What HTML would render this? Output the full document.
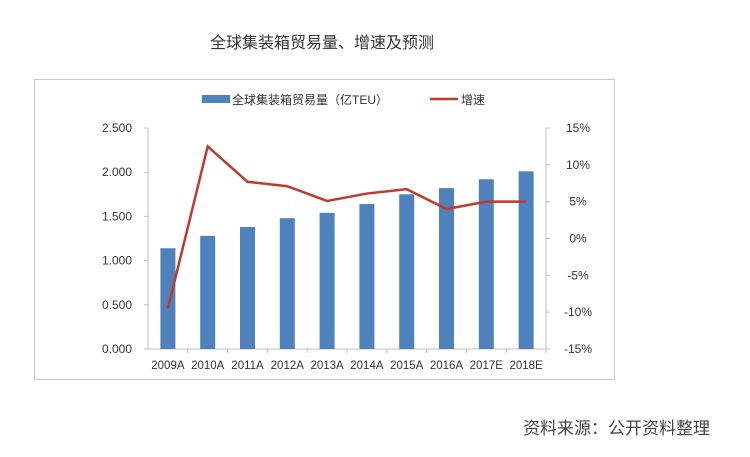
<!DOCTYPE html>
<html><head><meta charset="utf-8"><style>
body{margin:0;background:#fff;width:750px;height:452px;overflow:hidden;font-family:"Liberation Sans","Noto Sans CJK SC",sans-serif;}
</style></head><body>
<svg width="750" height="452" font-family="Liberation Sans, Noto Sans CJK SC, sans-serif">
<text x="322" y="48" text-anchor="middle" font-size="16" fill="#333">全球集装箱贸易量、增速及预测</text>
<rect x="34.5" y="79.5" width="580" height="300" fill="none" stroke="#c8c8c8"/>
<g>
<rect x="202" y="95" width="28" height="8" fill="#4f81bd"/>
<text x="232" y="104" font-size="12" fill="#333">全球集装箱贸易量（亿TEU）</text>
<line x1="430" y1="99" x2="458" y2="99" stroke="#c0392b" stroke-width="2.5"/>
<text x="461" y="104" font-size="12" fill="#333">增速</text>
</g>
<g id="plot"></g>
<text x="710" y="434" text-anchor="end" font-size="17" fill="#444">资料来源：公开资料整理</text>
</svg>
<script>
const categories=["2009A","2010A","2011A","2012A","2013A","2014A","2015A","2016A","2017E","2018E"];
const volume=[1.14,1.28,1.38,1.48,1.54,1.64,1.75,1.82,1.92,2.01];
const growth=[-9.5,12.5,7.7,7.1,5.1,6.1,6.7,4.0,5.0,5.0];
const leftTicks=["0.000","0.500","1.000","1.500","2.000","2.500"];
const rightTicks=["-15%","-10%","-5%","0%","5%","10%","15%"];
const NS="http://www.w3.org/2000/svg";
const g=document.getElementById('plot');
const X0=148,X1=546,Y0=349,Y1=128;
const bw=(X1-X0)/categories.length;
const xc=i=>X0+bw*(i+0.5);
const yL=v=>Y0-(v/2.5)*(Y0-Y1);
const yR=v=>Y0-((v+15)/30)*(Y0-Y1);
function mk(t,a){const e=document.createElementNS(NS,t);for(const k in a)e.setAttribute(k,a[k]);g.appendChild(e);return e;}
let e;
e=mk('line',{x1:X0,y1:Y1,x2:X0,y2:Y0,stroke:'#bfbfbf'});


e=mk('line',{x1:X1,y1:Y1,x2:X1,y2:Y0,stroke:'#bfbfbf'});


e=mk('line',{x1:X0,y1:Y0,x2:X1,y2:Y0,stroke:'#bfbfbf'});


leftTicks.forEach((t,i)=>{const y=yL(i*0.5);
 e=mk('line',{x1:X0-4,y1:y,x2:X0,y2:y,stroke:'#bfbfbf'});
 
 
 e=mk('text',{x:X0-16,y:y+4,'text-anchor':'end','font-size':12,fill:'#333'});e.textContent=t;
 
 });
rightTicks.forEach((t,i)=>{const y=yR(-15+i*5);
 e=mk('line',{x1:X1,y1:y,x2:X1+4,y2:y,stroke:'#bfbfbf'});
 
 
 e=mk('text',{x:X1+32,y:y+4,'text-anchor':'middle','font-size':12,fill:'#333'});e.textContent=t;
 
 });
categories.forEach((c,i)=>{
 e=mk('line',{x1:X0+bw*(i+1),y1:Y0,x2:X0+bw*(i+1),y2:Y0+4,stroke:'#bfbfbf'});
 
 
 e=mk('rect',{x:xc(i)-7.5,y:yL(volume[i]),width:15,height:Y0-yL(volume[i]),fill:'#4f81bd'});
 
 
 e=mk('text',{x:xc(i),y:Y0+20,'text-anchor':'middle','font-size':11.5,fill:'#333'});e.textContent=c;
 
 });
e=mk('polyline',{points:growth.map((v,i)=>xc(i)+','+yR(v)).join(' '),fill:'none',stroke:'#c0392b','stroke-width':2.5});


</script>
</body></html>
